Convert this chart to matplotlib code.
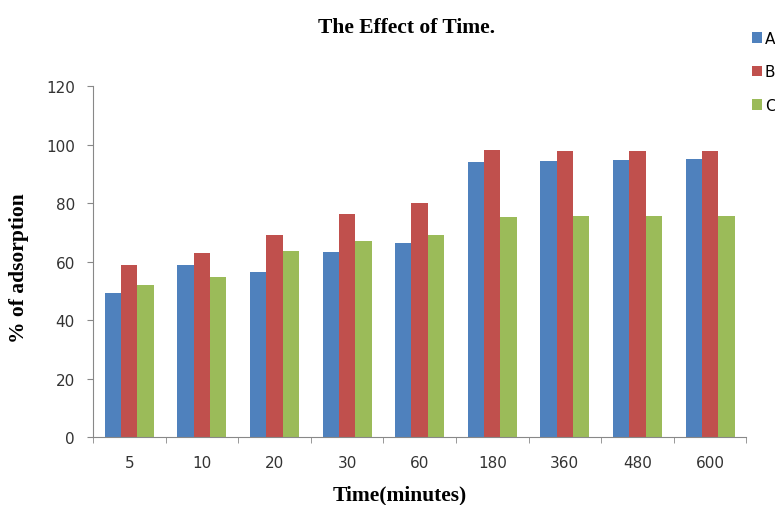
import matplotlib.pyplot as plt
import numpy as np

times = ['5', '10', '20', '30', '60', '180', '360', '480', '600']
series_a = [49.1, 58.9, 56.5, 63.2, 66.4, 93.9, 94.5, 94.7, 95.2]
series_b = [58.8, 63.0, 69.0, 76.1, 79.9, 98.2, 97.9, 97.9, 97.9]
series_c = [51.8, 54.8, 63.6, 67.0, 69.0, 75.2, 75.4, 75.4, 75.4]

colors = ['#4F81BD', '#C0504D', '#9BBB59']
serif = 'Liberation Serif'

fig = plt.figure(figsize=(7.75, 5.06), dpi=100)
ax = fig.add_axes([0.12, 0.1344, 0.843, 0.6936])

x = np.arange(len(times))
w = 0.225
for i, (vals, lab) in enumerate(zip([series_a, series_b, series_c], ['A', 'B', 'C'])):
    ax.bar(x + (i - 1) * w, vals, w, color=colors[i], label=lab)

ax.set_xlim(-0.5, len(times) - 0.5)
ax.set_ylim(0, 120)
ax.set_yticks(range(0, 121, 20))

# category labels centred, ticks drawn between groups
ax.set_xticks(x)
ax.set_xticklabels(times)
ax.tick_params(axis='x', which='major', length=0, pad=13)
ax.set_xticks(np.arange(-0.5, len(times)), minor=True)
ax.tick_params(axis='x', which='minor', length=4, color='#888888', direction='out')
ax.tick_params(axis='y', length=4, color='#888888', pad=9)
ax.tick_params(labelsize=11, labelcolor='#333333')

for s in ['top', 'right']:
    ax.spines[s].set_visible(False)
for s in ['left', 'bottom']:
    ax.spines[s].set_color('#888888')

# axis titles and chart title
fig.text(0.516, 0.020, 'Time(minutes)', family=serif, fontweight='bold',
         fontsize=15.5, ha='center', va='center')
fig.text(0.024, 0.47, '% of adsorption', family=serif, fontweight='bold',
         fontsize=15.5, ha='center', va='center', rotation=90)
fig.text(0.524, 0.944, 'The Effect of Time.', family=serif, fontweight='bold',
         fontsize=15.5, ha='center', va='center')

fig.legend(loc='upper left', bbox_to_anchor=(0.970, 0.937), frameon=False,
           handlelength=0.7, handleheight=0.7, handletextpad=0.15,
           labelspacing=1.2, fontsize=11, borderaxespad=0, borderpad=0)

fig.savefig('out.png', dpi=100)
